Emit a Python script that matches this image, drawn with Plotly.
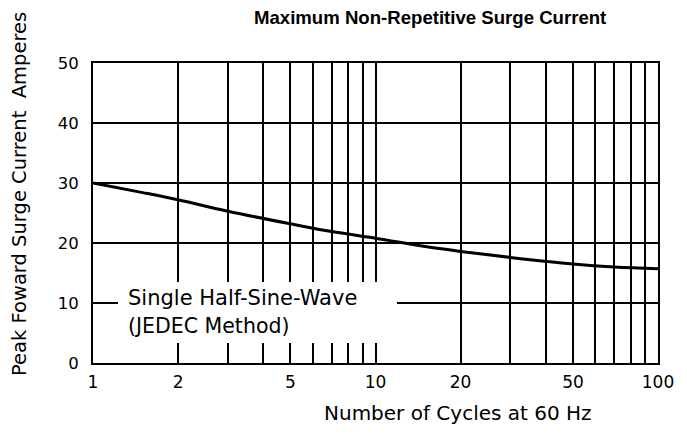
import plotly.graph_objects as go

cycles = [1, 1.5, 2, 3, 5, 7, 10, 15, 20, 30, 50, 70, 100]
current = [30.0, 28.4, 27.2, 25.3, 23.2, 21.9, 20.8, 19.4, 18.6, 17.6, 16.5, 16.0, 15.7]

x_grid = [1, 2, 3, 4, 5, 6, 7, 8, 9, 10, 20, 30, 40, 50, 60, 70, 80, 90, 100]
x_labels = {1: "1", 2: "2", 5: "5", 10: "10", 20: "20", 50: "50", 100: "100"}
y_ticks = [0, 10, 20, 30, 40, 50]

title_text = "Maximum Non-Repetitive Surge Current"
x_title = "Number of Cycles at 60 Hz"
y_title = "Peak Foward Surge Current  Amperes"
note_lines = ["Single Half-Sine-Wave", "(JEDEC Method)"]

FONT = "DejaVu Sans, sans-serif"
TFONT = "Arial, Liberation Sans, sans-serif"

fig = go.Figure()
fig.add_trace(go.Scatter(x=cycles, y=current, mode="lines",
                         line=dict(color="black", width=3, shape="spline"),
                         hoverinfo="skip", showlegend=False))

OFF = 8  # page body margin
W, H = 671, 420
PL, PT, PW, PH = 93, 63, 565, 300  # plot area in page pixels
L, T = PL - OFF, PT - OFF
R, B = W - L - PW, H - T - PH

def px(xp):
    return (xp - PL) / PW

def py(yp):
    return (PT + PH - yp) / PH

fig.update_layout(
    width=W, height=H,
    margin=dict(l=L, r=R, t=T, b=B, autoexpand=False),
    paper_bgcolor="white", plot_bgcolor="white",
    font=dict(family=FONT, color="black", size=17),
    showlegend=False,
)
fig.update_xaxes(type="log", range=[0, 2],
                 tickvals=x_grid, ticktext=[x_labels.get(v, "") for v in x_grid],
                 showgrid=True, gridcolor="black", gridwidth=1.6,
                 showline=True, linecolor="black", linewidth=2, mirror=True,
                 ticks="", ticklabelstandoff=3, zeroline=False,
                 tickfont=dict(size=17))
fig.update_yaxes(range=[0, 50], tickvals=y_ticks,
                 showgrid=True, gridcolor="black", gridwidth=1.6,
                 showline=True, linecolor="black", linewidth=2, mirror=True,
                 ticks="", ticklabelstandoff=9, zeroline=False,
                 tickfont=dict(size=16.5))

# white box behind note
fig.add_shape(type="rect", xref="paper", yref="paper",
              x0=px(118), x1=px(397), y0=py(343), y1=py(282),
              fillcolor="white", line=dict(width=0), layer="above")

fig.add_annotation(text=note_lines[0], xref="paper", yref="paper",
                   x=px(126), y=py(298), xanchor="left", yanchor="middle",
                   showarrow=False, font=dict(size=21))
fig.add_annotation(text=note_lines[1], xref="paper", yref="paper",
                   x=px(126), y=py(326), xanchor="left", yanchor="middle",
                   showarrow=False, font=dict(size=20.5))

fig.add_annotation(text="<b>" + title_text + "</b>", xref="paper", yref="paper",
                   x=px(430), y=py(17), xanchor="center", yanchor="middle",
                   showarrow=False, font=dict(size=18.6, family=TFONT))
fig.add_annotation(text=x_title, xref="paper", yref="paper",
                   x=px(458), y=py(413), xanchor="center", yanchor="middle",
                   showarrow=False, font=dict(size=20))
fig.add_annotation(text=y_title, xref="paper", yref="paper",
                   x=px(19), y=py(194), xanchor="center", yanchor="middle",
                   textangle=-90, showarrow=False, font=dict(size=19.5))

fig.write_html("out.html")
